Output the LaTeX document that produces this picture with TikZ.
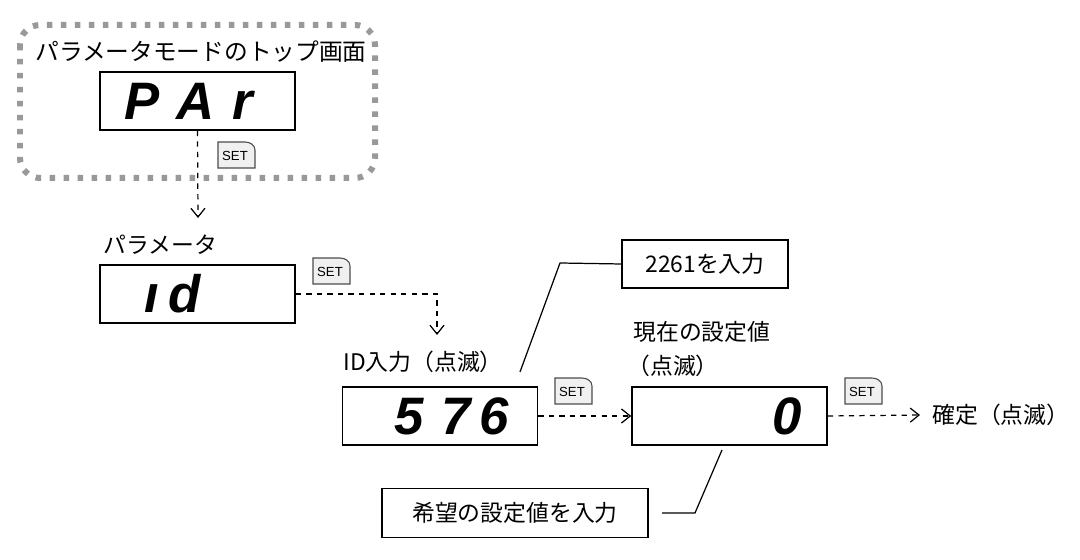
\documentclass[tikz,border=0pt]{standalone}
\usepackage{fontspec}
\usetikzlibrary{arrows.meta}
\setmainfont{Noto Sans CJK JP}
\newfontfamily\segfont{Liberation Sans}
\begin{document}
\begin{tikzpicture}[x=0.02cm,y=-0.02cm,
  lbl/.style={font=\fontsize{13}{15}\selectfont,inner sep=0,anchor=west},
  disp/.style={draw,line width=0.9pt,minimum width=3.9cm,minimum height=1.16cm,inner sep=0},
  seg/.style={font=\segfont\bfseries\itshape\fontsize{30}{30}\selectfont},
  cbox/.style={draw,line width=0.7pt,inner sep=0},
  darr/.style={dashed,line width=0.7pt,-{Straight Barb[length=5pt,width=8pt]}},
  setkey/.style={font=\segfont\fontsize{7.5}{8}\selectfont,inner sep=0}]
\useasboundingbox (0,0) rectangle (1080,560);
\newcommand{\setkeyat}[2]{%
  \path[draw=black!70,fill=black!6,line width=0.6pt] (#1,#2) -- (#1,#2+26) -- (#1+37,#2+26) -- (#1+37,#2+8) to[out=90,in=0] (#1+27,#2) -- cycle;
  \node[setkey] at (#1+17,#2+14) {SET};}
% dotted frame
\draw[gray!80,line width=0.12cm,dash pattern=on 0.11cm off 0.17cm,rounded corners=0.4cm] (20,25) rectangle (375,178);
\node[lbl,font=\fontsize{13.5}{15}\selectfont] (t1) at (35,52) {パラメータモードのトップ画面};
\node[disp] (par) at (197.5,101) {};
\node[seg,anchor=west] at (118,101) {P\,\,A\,\,r};
\coordinate (a1) at (198,218);
\draw[darr] (par.south) -- (a1);
\setkeyat{218}{142}
% id
\node[lbl] (t2) at (103,245) {パラメータ};
\node[disp] (idb) at (197.5,294) {};
\node[seg,anchor=west] at (130,294) {\,ı\,d};
\setkeyat{313}{258}
\coordinate (a2) at (437,335);
\draw[darr] (idb.east) -- (437,294) -- (a2);
% ID input
\node[lbl] (t3) at (343,362) {ID入力（点滅）};
\node[disp] (d576) at (440,416) {};
\node[seg,anchor=east] at (515,416) {5\,\,7\,6};
\setkeyat{555}{378}
% current value
\node[lbl] (t4) at (633,332) {現在の設定値};
\node[lbl] (t5) at (627,366) {（点滅）};
\node[disp] (d0) at (729.5,416) {};
\node[seg,anchor=east] at (808,416) {0};
\draw[darr] (d576.east) -- (d0.west);
\setkeyat{845}{378}
\node[lbl] (t6) at (932,415) {確定（点滅）};
\coordinate (a3) at (920,415);
\draw[darr] (d0.east) -- (a3);
% callouts
\node[cbox,minimum width=3.32cm,minimum height=0.96cm,font=\fontsize{13}{15}\selectfont] (c1) at (705,264) {2261を入力};
\draw[line width=0.7pt] (520,372) -- (560,263) -- (c1.west);
\node[cbox,minimum width=5.32cm,minimum height=0.98cm,font=\fontsize{13}{15}\selectfont] (c2) at (515,513) {希望の設定値を入力};
\draw[line width=0.7pt] (722,450) -- (695,513) -- (662,513);
\end{tikzpicture}
\end{document}
